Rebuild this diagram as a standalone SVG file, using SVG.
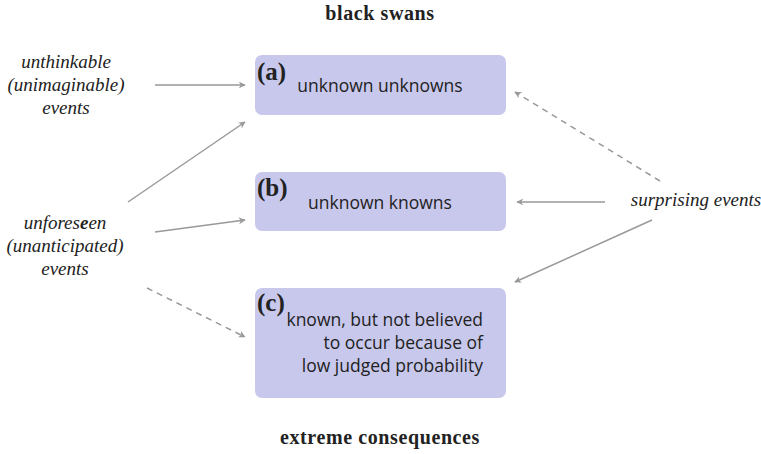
<svg xmlns="http://www.w3.org/2000/svg" width="761" height="454" viewBox="0 0 761 454">
<style>
.box{fill:#c8c8ec;}
.it{font-family:"Liberation Serif",serif;font-style:italic;font-size:19px;fill:#222;text-anchor:middle;}
.ttl{font-family:"Liberation Serif",serif;font-weight:bold;font-size:20px;letter-spacing:0.6px;fill:#222;text-anchor:middle;}
.lab{font-family:"Liberation Serif",serif;font-weight:bold;font-size:25px;fill:#222;}
.bt{font-family:"Open Sans","Liberation Sans",sans-serif;font-size:17.5px;fill:#222;}
.c{stroke:#999;stroke-width:1.5;fill:none;marker-end:url(#ah);}
.d{stroke-dasharray:6,5;}
</style>
<defs>
<marker id="ah" viewBox="0 0 10 10" refX="9" refY="5" markerWidth="7" markerHeight="7" markerUnits="userSpaceOnUse" orient="auto">
<path d="M0,0 L10,5 L0,10 L3,5 Z" fill="#999"/>
</marker>
</defs>
<text class="ttl" x="380" y="20">black swans</text>
<text class="ttl" x="380" y="444">extreme consequences</text>
<g id="a">
<rect class="box" x="255" y="55" width="251" height="60" rx="7"/>
<text class="lab" x="257" y="80">(a)</text>
<text class="bt" x="380" y="92" text-anchor="middle">unknown unknowns</text>
</g>
<g id="b">
<rect class="box" x="255" y="172" width="251" height="59" rx="7"/>
<text class="lab" x="257" y="196">(b)</text>
<text class="bt" x="380" y="209" text-anchor="middle">unknown knowns</text>
</g>
<g id="c">
<rect class="box" x="255" y="288" width="251" height="110" rx="7"/>
<text class="lab" x="257" y="311">(c)</text>
<text class="bt" text-anchor="end"><tspan x="483" y="326">known, but not believed</tspan><tspan x="483" y="349">to occur because of</tspan><tspan x="483" y="372">low judged probability</tspan></text>
</g>
<g id="unthinkable">
<text class="it"><tspan x="66" y="68">unthinkable</tspan><tspan x="66" y="91">(unimaginable)</tspan><tspan x="66" y="114">events</tspan></text>
</g>
<g id="unforeseen">
<text class="it"><tspan x="65" y="229">unfores<tspan font-weight="bold">e</tspan>en</tspan><tspan x="65" y="252">(unanticipated)</tspan><tspan x="65" y="275">events</tspan></text>
</g>
<g id="surprising">
<text class="it" x="696" y="206">surprising events</text>
</g>
<g id="connectors">
<line class="c" x1="155" y1="85" x2="245" y2="85"/>
<line class="c" x1="128" y1="202" x2="245" y2="122"/>
<line class="c" x1="155" y1="232" x2="245" y2="220"/>
<line class="c d" x1="147" y1="288" x2="245" y2="337"/>
<line class="c d" x1="660" y1="181" x2="515" y2="92"/>
<line class="c" x1="605" y1="202" x2="517" y2="202"/>
<line class="c" x1="652" y1="220" x2="515" y2="282"/>
</g>
</svg>
